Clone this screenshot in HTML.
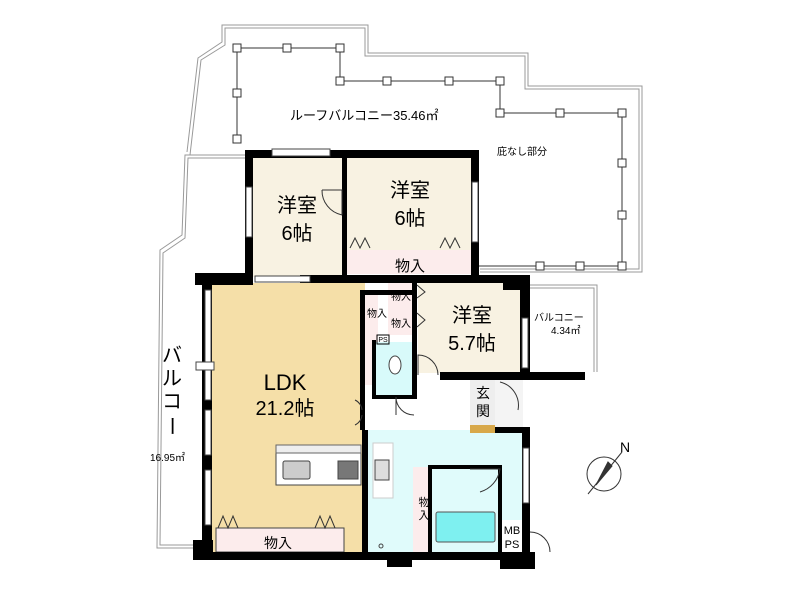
<!DOCTYPE html>
<html><head><meta charset="utf-8"><style>
html,body{margin:0;padding:0;background:#fff;}
svg{display:block;font-family:"Liberation Sans","Noto Sans CJK JP",sans-serif;}
</style></head><body>
<svg width="800" height="600" viewBox="0 0 800 600" xmlns="http://www.w3.org/2000/svg">
<g fill="none" stroke="#999" stroke-width="1">
<polyline points="187,152 198,58 222,42 222,25 368,25 368,53 528,53 528,86 642,86 642,272 480,272"/>
<polyline points="190,155 201,60 225,45 225,28 365,28 365,56 525,56 525,89 639,89 639,269 480,269"/>
<polyline points="245,155 185,155 182,235 160,250 157,548 195,548"/>
<polyline points="245,158 188,158 185,238 163,253 160,545 195,545"/>
<polyline points="530,285 597,285 597,372"/>
<polyline points="530,288 594,288 594,372"/>
</g>
<polyline points="237,140 237,48 340,48 340,81 500,81 500,113 622,113 622,266 478,266" fill="none" stroke="#333" stroke-width="1"/>
<g fill="#fff" stroke="#333" stroke-width="1">
<rect x="233" y="44" width="8" height="8"/><rect x="283" y="44" width="8" height="8"/><rect x="336" y="44" width="8" height="8"/>
<rect x="233" y="89" width="8" height="8"/><rect x="233" y="135" width="8" height="8"/>
<rect x="336" y="77" width="8" height="8"/><rect x="383" y="77" width="8" height="8"/><rect x="445" y="77" width="8" height="8"/><rect x="496" y="77" width="8" height="8"/>
<rect x="496" y="109" width="8" height="8"/><rect x="556" y="109" width="8" height="8"/><rect x="618" y="109" width="8" height="8"/>
<rect x="618" y="159" width="8" height="8"/><rect x="618" y="211" width="8" height="8"/><rect x="618" y="262" width="8" height="8"/>
<rect x="576" y="262" width="8" height="8"/><rect x="536" y="262" width="8" height="8"/>
</g>
<rect x="253" y="157" width="92" height="120" fill="#f8f2e2"/>
<rect x="347" y="157" width="126" height="94" fill="#f8f2e2"/>
<rect x="347" y="250" width="126" height="24" fill="#fcecec"/>
<rect x="212" y="283" width="153" height="270" fill="#f5dfa8"/>
<rect x="365" y="380" width="10" height="50" fill="#fff"/>
<rect x="418" y="283" width="104" height="90" fill="#f8f2e2"/>
<rect x="362" y="295" width="16" height="90" fill="#fcecec"/>
<rect x="388" y="283" width="28" height="52" fill="#fcecec"/>
<rect x="375" y="342" width="40" height="55" fill="#d8fafa"/>
<rect x="367" y="430" width="158" height="122" fill="#e0fbfb"/>
<rect x="430" y="467" width="72" height="85" fill="#e0fbfb"/>
<rect x="436" y="512" width="59" height="30" fill="#7ef0f0" stroke="#555" stroke-width="1" rx="2"/>
<rect x="413" y="467" width="15" height="85" fill="#fcecec"/>
<rect x="502" y="520" width="20" height="32" fill="#fff"/>
<rect x="470" y="380" width="25" height="46" fill="#eee"/>
<rect x="470" y="425" width="25" height="8" fill="#d8a84a"/>
<rect x="495" y="380" width="28" height="50" fill="#f4f4f4"/>
<rect x="216" y="528" width="128" height="24" fill="#fcecec" stroke="#444" stroke-width="1"/>
<rect x="276" y="447" width="85" height="38" fill="#fff" stroke="#444" stroke-width="1"/>
<rect x="276" y="445" width="85" height="8" fill="#eee" stroke="#666" stroke-width="1"/>
<rect x="283" y="461" width="27" height="18" fill="#ccc" stroke="#444" rx="2"/>
<rect x="338" y="461" width="20" height="18" fill="#777" stroke="#444"/>
<rect x="373" y="443" width="20" height="55" fill="#fff" stroke="#ccc"/>
<rect x="375" y="460" width="14" height="20" fill="#ddd" stroke="#444"/>
<g fill="#000">
<rect x="245" y="150" width="233" height="8"/>
<rect x="245" y="150" width="8" height="130"/>
<rect x="342" y="150" width="5" height="125"/>
<rect x="471" y="150" width="8" height="130"/>
<rect x="195" y="273" width="58" height="12"/>
<rect x="300" y="275" width="230" height="8"/>
<rect x="503" y="275" width="27" height="15"/>
<rect x="520" y="275" width="10" height="105"/>
<rect x="202" y="283" width="10" height="270"/>
<rect x="193" y="540" width="20" height="18"/>
<rect x="193" y="552" width="342" height="8"/>
<rect x="387" y="555" width="25" height="12"/>
<rect x="500" y="555" width="35" height="14"/>
<rect x="360" y="290" width="5" height="140"/>
<rect x="360" y="290" width="55" height="5"/>
<rect x="412" y="283" width="5" height="112"/>
<rect x="372" y="340" width="4" height="58"/>
<rect x="372" y="395" width="45" height="4"/>
<rect x="440" y="372" width="145" height="8"/>
<rect x="362" y="430" width="6" height="125"/>
<rect x="428" y="465" width="4" height="90"/>
<rect x="428" y="465" width="74" height="4"/>
<rect x="498" y="465" width="4" height="90"/>
<rect x="522" y="430" width="8" height="125"/>
<rect x="495" y="427" width="35" height="6"/>
</g>
<g fill="#fff" stroke="#444" stroke-width="1">
<rect x="272" y="149" width="58" height="7"/>
<rect x="246" y="187" width="6" height="50"/>
<rect x="472" y="182" width="6" height="60"/>
<rect x="205" y="290" width="6" height="110"/>
<rect x="196" y="362" width="18" height="8"/>
<rect x="205" y="410" width="6" height="45"/>
<rect x="205" y="470" width="6" height="55"/>
<rect x="522" y="318" width="6" height="50"/>
<rect x="523" y="448" width="6" height="55"/>
<rect x="255" y="276" width="55" height="6"/>
</g>
<g fill="none" stroke="#333" stroke-width="1">
<path d="M322,190 L342,190 L342,215 M322,190 A25,25 0 0 0 342,215"/>
<path d="M418,375 L418,355 A20,20 0 0 1 438,375"/>
<path d="M396,397 L396,415 M396,397 A18,18 0 0 0 414,415"/>
<path d="M355,400 A12,12 0 0 1 362,410 M355,425 A12,12 0 0 0 362,415"/>
<path d="M500,382 A24,24 0 0 1 518,410"/>
<path d="M470,469 L500,469 A28,28 0 0 1 480,492"/>
<path d="M530,532 A20,20 0 0 1 550,552"/>
<polyline points="350,248 355,238 360,248 365,238 370,248"/>
<polyline points="440,248 445,238 450,248 455,238 460,248"/>
<polyline points="218,528 223,516 228,528 233,516 238,528"/>
<polyline points="315,528 320,516 325,528 330,516 335,528"/>
<polyline points="417,285 425,292 417,298"/>
<polyline points="417,313 425,320 417,327"/>
</g>
<g stroke="#333" fill="none">
<circle cx="604" cy="474" r="17"/>
<line x1="588" y1="494" x2="622" y2="452"/>
<polygon points="596,485 612,466 608,462" fill="#333"/>
</g>
<text x="620" y="452" font-size="14" fill="#000">N</text>
<g fill="#000">
<text x="290" y="120" font-size="13">ルーフバルコニー35.46㎡</text>
<text x="497" y="155" font-size="10">庇なし部分</text>
<text x="297" y="212" font-size="20" text-anchor="middle">洋室</text>
<text x="297" y="240" font-size="20" text-anchor="middle">6帖</text>
<text x="410" y="197" font-size="20" text-anchor="middle">洋室</text>
<text x="410" y="225" font-size="20" text-anchor="middle">6帖</text>
<text x="410" y="271" font-size="15" text-anchor="middle">物入</text>
<text x="472" y="322" font-size="20" text-anchor="middle">洋室</text>
<text x="472" y="350" font-size="20" text-anchor="middle">5.7帖</text>
<text x="534" y="321" font-size="10">バルコニー</text>
<text x="551" y="334" font-size="10">4.34㎡</text>
<text x="285" y="390" font-size="22" text-anchor="middle">LDK</text>
<text x="285" y="415" font-size="20" text-anchor="middle">21.2帖</text>
<text x="172" y="362" font-size="20" text-anchor="middle">バ</text>
<text x="172" y="385" font-size="20" text-anchor="middle">ル</text>
<text x="172" y="408" font-size="20" text-anchor="middle">コ</text>
<text x="172" y="433" font-size="20" text-anchor="middle" transform="rotate(90 172 426)">ー</text>
<text x="150" y="461" font-size="10">16.95㎡</text>
<text x="278" y="548" font-size="14" text-anchor="middle">物入</text>
<text x="483" y="398" font-size="14" text-anchor="middle">玄</text>
<text x="483" y="416" font-size="14" text-anchor="middle">関</text>
<text x="424" y="506" font-size="11" text-anchor="middle">物</text>
<text x="424" y="519" font-size="11" text-anchor="middle">入</text>
<text x="512" y="534" font-size="11" text-anchor="middle">MB</text>
<text x="512" y="548" font-size="11" text-anchor="middle">PS</text>
<text x="401" y="300" font-size="10" text-anchor="middle">物入</text>
<text x="401" y="327" font-size="10" text-anchor="middle">物入</text>
<text x="377" y="317" font-size="10" text-anchor="middle">物入</text>
<text x="383" y="342" font-size="7" text-anchor="middle">PS</text>
</g>
<rect x="377" y="335" width="12" height="9" fill="none" stroke="#000" stroke-width="1"/>
<ellipse cx="395" cy="365" rx="6" ry="9" fill="#fff" stroke="#444"/>
<circle cx="381" cy="546" r="2" fill="none" stroke="#444"/>
</svg>
</body></html>
